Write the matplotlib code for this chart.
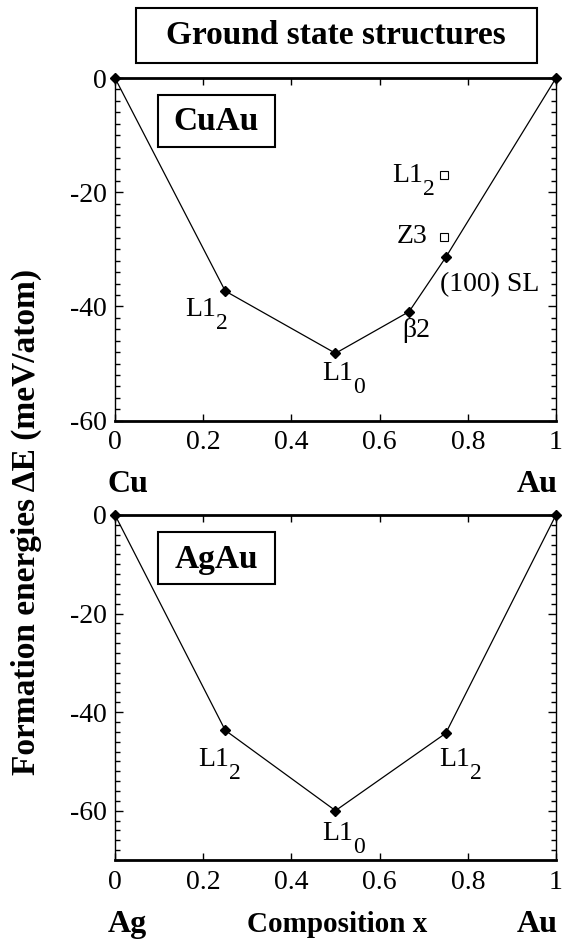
import matplotlib
matplotlib.use("Agg")
import matplotlib.pyplot as plt
from matplotlib.patches import Rectangle
from matplotlib.ticker import MultipleLocator

plt.rcParams['font.family'] = ['Liberation Serif', 'DejaVu Serif']
plt.rcParams['axes.unicode_minus'] = False

# ---- data ----
cu_x = [0, 0.25, 0.5, 0.667, 0.75, 1]
cu_y = [0, -37.3, -48.2, -40.9, -31.4, 0]
cu_meta_x = [0.745, 0.745]
cu_meta_y = [-16.9, -27.8]

ag_x = [0, 0.25, 0.5, 0.75, 1]
ag_y = [0, -43.7, -60.0, -44.3, 0]

x_ticks = [0, 0.2, 0.4, 0.6, 0.8, 1]
x_ticklabels = ['0', '0.2', '0.4', '0.6', '0.8', '1']
y_ticks = [0, -20, -40, -60]
y_ticklabels = ['0', '-20', '-40', '-60']

# (main text, subscript)
cu_labels = [('L1', '2'), ('L1', '0'), ('β2', ''), ('(100) SL', '')]
cu_meta_labels = [('L1', '2'), ('Z3', '')]
ag_labels = [('L1', '2'), ('L1', '0'), ('L1', '2')]

fig = plt.figure(figsize=(5.71, 9.39), dpi=100)
ax1 = fig.add_axes([0.2014, 0.5520, 0.7723, 0.3649])
ax2 = fig.add_axes([0.2014, 0.0842, 0.7723, 0.3674])

FS = 20
SUB_FS = 17

def style(ax, ymin):
    ax.set_xlim(0, 1)
    ax.set_ylim(ymin, 0)
    ax.set_xticks(x_ticks)
    ax.set_xticklabels(x_ticklabels)
    ax.set_yticks(y_ticks)
    ax.set_yticklabels(y_ticklabels)
    ax.yaxis.set_minor_locator(MultipleLocator(2))
    ax.tick_params(axis='both', which='both', direction='in', top=True, right=True,
                   labelsize=FS, width=1)
    ax.tick_params(axis='x', which='major', length=5, pad=7)
    ax.tick_params(axis='y', which='major', length=6, pad=6)
    ax.tick_params(axis='y', which='minor', length=3.5)
    ax.spines['top'].set_linewidth(2)
    ax.spines['bottom'].set_linewidth(2)
    ax.spines['left'].set_linewidth(1)
    ax.spines['right'].set_linewidth(1)

def label(ax, x, y, lab, ha='left'):
    main, sub = lab
    t = ax.text(x, y, main, fontsize=FS, ha=ha, va='baseline')
    if sub:
        ax.annotate(sub, xy=(1, 0), xycoords=t, xytext=(0.3, -4.8),
                    textcoords='offset points', fontsize=SUB_FS, ha='left', va='baseline')
    return t

style(ax1, -60)
style(ax2, -70)

ax1.plot(cu_x, cu_y, color='black', lw=0.9, marker='D', markersize=5.5, clip_on=False, zorder=5)
ax1.plot(cu_meta_x, cu_meta_y, linestyle='none', marker='s', markersize=5.5,
         markerfacecolor='white', markeredgecolor='black', markeredgewidth=0.8)
ax2.plot(ag_x, ag_y, color='black', lw=0.9, marker='D', markersize=5.5, clip_on=False, zorder=5)

# labels top panel
label(ax1, 0.159, -41.7, cu_labels[0])
label(ax1, 0.469, -52.9, cu_labels[1])
label(ax1, 0.683, -45.3, cu_labels[2], ha='center')
label(ax1, 0.737, -37.4, cu_labels[3])
label(ax1, 0.628, -18.2, cu_meta_labels[0])
label(ax1, 0.7075, -28.9, cu_meta_labels[1], ha='right')

# labels bottom panel
label(ax2, 0.188, -51.0, ag_labels[0])
label(ax2, 0.469, -66.0, ag_labels[1])
label(ax2, 0.735, -51.0, ag_labels[2])

# alloy boxes
for ax, name in [(ax1, 'CuAu'), (ax2, 'AgAu')]:
    ax.add_patch(Rectangle((0.0975, 0.799), 0.2655, 0.152, transform=ax.transAxes,
                           fill=False, edgecolor='black', lw=1.5, clip_on=False))
    ax.text(0.230, 0.872, name, transform=ax.transAxes, fontsize=24, fontweight='bold',
            ha='center', va='center')

# title box
fig.add_artist(Rectangle((136 / 571, 1 - 63 / 939), 401 / 571, 55 / 939,
                         transform=fig.transFigure, fill=False, edgecolor='black', lw=1.5))
fig.text(0.589, 0.962, 'Ground state structures', fontsize=24, fontweight='bold',
         ha='center', va='center')

# element labels
fig.text(0.189, 1 - 492 / 939, 'Cu', fontsize=23, fontweight='bold', ha='left', va='baseline')
fig.text(0.977, 1 - 492 / 939, 'Au', fontsize=23, fontweight='bold', ha='right', va='baseline')
fig.text(0.189, 1 - 932 / 939, 'Ag', fontsize=23, fontweight='bold', ha='left', va='baseline')
fig.text(0.977, 1 - 932 / 939, 'Au', fontsize=23, fontweight='bold', ha='right', va='baseline')
fig.text(0.591, 1 - 932 / 939, 'Composition x', fontsize=21, fontweight='bold',
         ha='center', va='baseline')

fig.text(0.047, 1 - 522 / 939, 'Formation energies ΔE (meV/atom)', fontsize=24,
         fontweight='bold', rotation=90, ha='center', va='center')

fig.savefig('out.png', dpi=100)
